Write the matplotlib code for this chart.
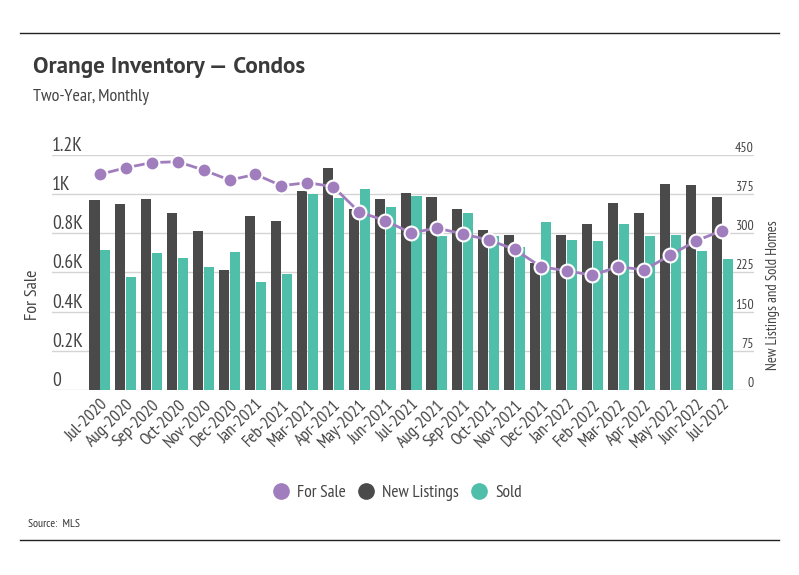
import matplotlib
matplotlib.use('Agg')
import matplotlib.pyplot as plt
from matplotlib.lines import Line2D
import numpy as np

plt.rcParams['font.family'] = ['PT Sans Narrow', 'DejaVu Sans']

#%% data
months = ['Jul-2020', 'Aug-2020', 'Sep-2020', 'Oct-2020', 'Nov-2020', 'Dec-2020',
          'Jan-2021', 'Feb-2021', 'Mar-2021', 'Apr-2021', 'May-2021', 'Jun-2021',
          'Jul-2021', 'Aug-2021', 'Sep-2021', 'Oct-2021', 'Nov-2021', 'Dec-2021',
          'Jan-2022', 'Feb-2022', 'Mar-2022', 'Apr-2022', 'May-2022', 'Jun-2022',
          'Jul-2022']
for_sale = [1101, 1135, 1161, 1166, 1123, 1072, 1101, 1043, 1059, 1038, 909, 865,
            802, 827, 797, 766, 718, 630, 608, 587, 630, 613, 689, 762, 814]
new_listings = [364, 356, 366, 339, 304, 230, 333, 324, 381, 425, 347, 366,
                377, 370, 347, 306, 297, 243, 297, 318, 358, 339, 395, 393, 370]
sold = [268, 216, 262, 253, 236, 264, 207, 222, 375, 368, 385, 350,
        372, 295, 339, 295, 274, 322, 287, 285, 318, 295, 297, 266, 251]

left_ticks = [0, 200, 400, 600, 800, 1000, 1200]
left_labels = ['0', '0.2K', '0.4K', '0.6K', '0.8K', '1K', '1.2K']
right_ticks = [0, 75, 150, 225, 300, 375, 450]

c_purple = '#a07dbd'
c_dark = '#4a4a4a'
c_teal = '#50bfaa'
c_grid = '#d4d4d4'
c_text = '#444444'

#%% plot
fig = plt.figure(figsize=(7.99, 5.75), dpi=100)
ax1 = fig.add_axes([52/799, 1-390/575, (754-52)/799, (390-155)/575])
ax2 = ax1.twinx()

x = np.arange(len(months))
w = 0.39
ax2.bar(x - 0.21, new_listings, w, color=c_dark, zorder=2)
ax2.bar(x + 0.21, sold, w, color=c_teal, zorder=2)
ax2.set_ylim(0, 450)
ax2.set_yticks(right_ticks)
ax2.set_yticklabels([str(t) for t in right_ticks])
ax2.grid(axis='y', color=c_grid, lw=1)
ax2.set_axisbelow(True)
ax2.tick_params(axis='y', length=0, pad=0, labelsize=10, labelcolor=c_text)
for lbl in ax2.get_yticklabels():
    lbl.set_ha('right')
    lbl.set_va('bottom')

ax1.set_zorder(ax2.get_zorder() + 1)
ax1.patch.set_visible(False)
ax1.plot(x, for_sale, color=c_purple, lw=2, marker='o', ms=10,
         mfc=c_purple, mec='white', mew=1.5, zorder=3)
ax1.set_ylim(0, 1200)
ax1.set_yticks(left_ticks)
ax1.set_yticklabels(left_labels)
ax1.tick_params(axis='y', length=0, pad=0, labelsize=14, labelcolor=c_text)
for lbl in ax1.get_yticklabels():
    lbl.set_ha('left')
    lbl.set_va('bottom')

ax1.set_xlim(-1.85, 25.23)
ax1.set_xticks(x)
ax1.set_xticklabels(months, rotation=45, ha='right', va='top',
                    rotation_mode='anchor', fontsize=12.5, color=c_text)
ax1.tick_params(axis='x', length=0, pad=5)

for a in (ax1, ax2):
    for s in a.spines.values():
        s.set_visible(False)

fig.text(33/799, 1-295/575, 'For Sale', rotation=90, ha='center', va='center',
         fontsize=13, color=c_text)
fig.text(773/799, 1-295/575, 'New Listings and Sold Homes', rotation=90,
         ha='center', va='center', fontsize=10.5, color=c_text)

# title block
fig.text(33/799, 1-68/575, 'Orange Inventory — Condos', fontsize=16.7,
         family='PT Sans', fontweight='bold', color='#3a3a3a', va='center', ha='left')
fig.text(33/799, 1-97/575, 'Two-Year, Monthly', fontsize=13,
         color=c_text, va='center', ha='left')
fig.text(28/799, 1-524/575, 'Source:  MLS', fontsize=8.5, color='#333333',
         va='center', ha='left')

fig.add_artist(Line2D([20/799, 779/799], [1-33/575, 1-33/575], color='#222222', lw=1))
fig.add_artist(Line2D([20/799, 779/799], [1-540/575, 1-540/575], color='#222222', lw=1))

handles = [Line2D([], [], ls='', marker='o', ms=11, color=c_purple, label='For Sale'),
           Line2D([], [], ls='', marker='o', ms=11, color=c_dark, label='New Listings'),
           Line2D([], [], ls='', marker='o', ms=11, color=c_teal, label='Sold')]
leg = fig.legend(handles=handles, loc='center', bbox_to_anchor=(396/799, 1-493/575),
                 ncol=3, frameon=False, fontsize=12.5, handletextpad=0.3,
                 columnspacing=0.6, handlelength=1.2)
for t in leg.get_texts():
    t.set_color(c_text)

fig.savefig('out.png', dpi=100)
